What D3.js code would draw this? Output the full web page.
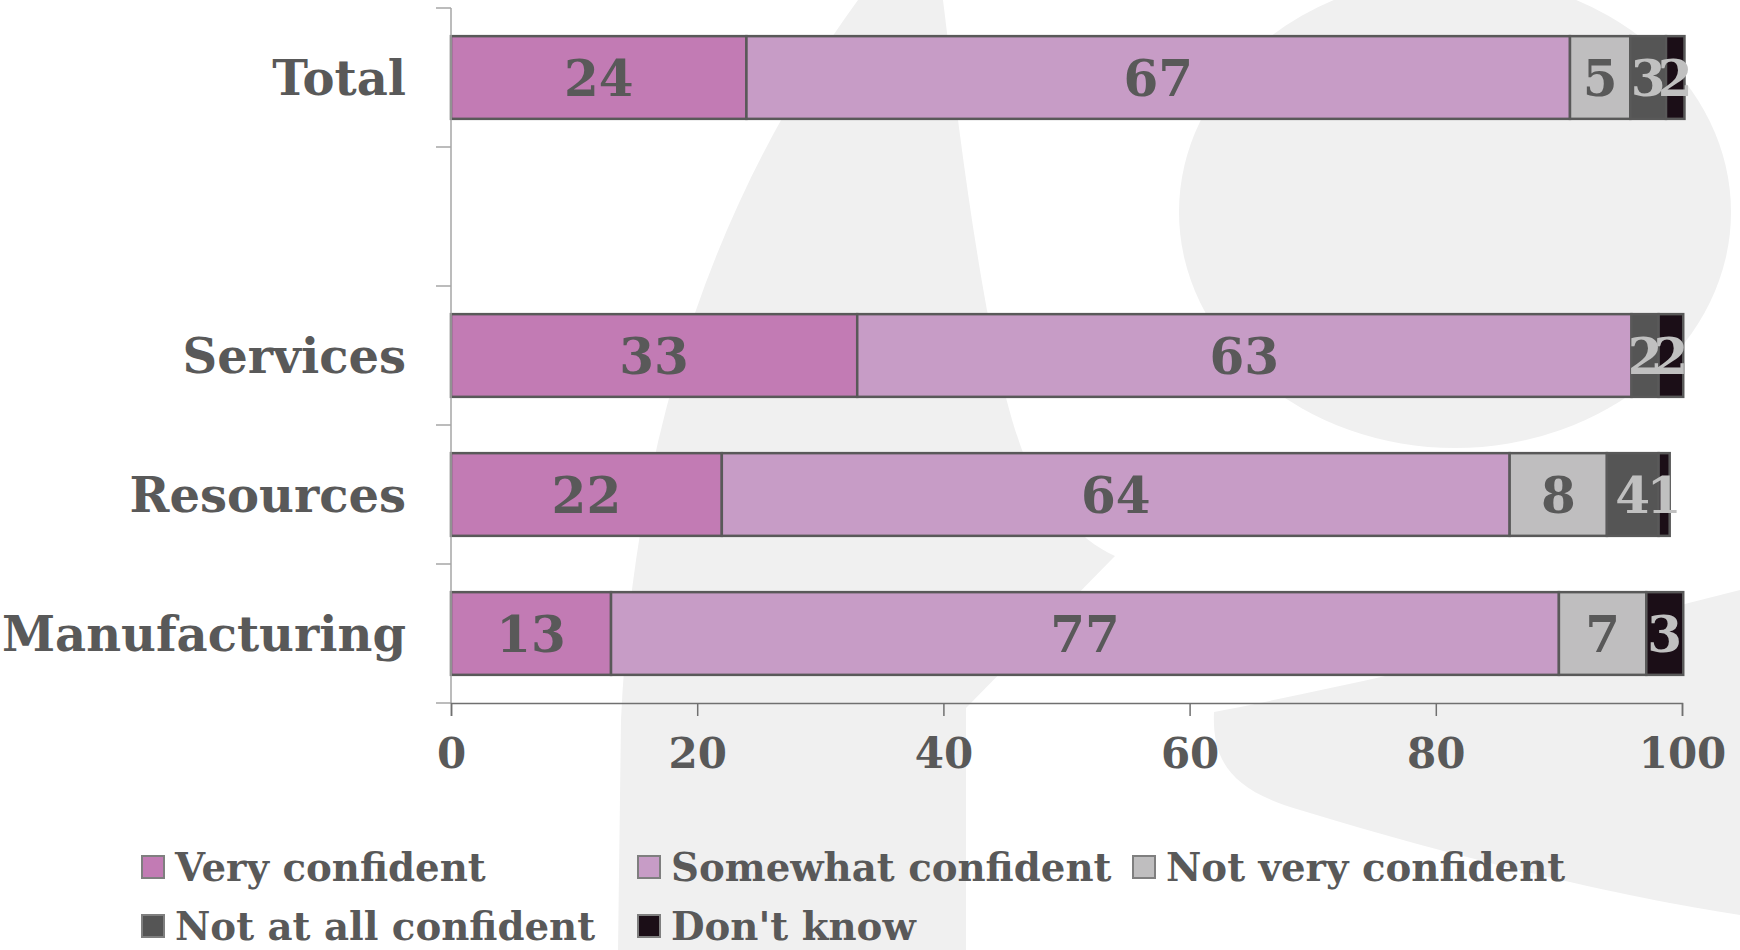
<!DOCTYPE html>
<html>
<head>
<meta charset="utf-8">
<script src="https://cdn.jsdelivr.net/npm/d3@7"></script>
<style>
  html, body { margin: 0; padding: 0; background: #ffffff; }
  svg { display: block; }
  text { font-family: "DejaVu Serif", serif; font-weight: bold; }
</style>
</head>
<body>
<svg id="chart" width="1740" height="950"></svg>
<script>
// ---- data ----
const categories = ["Total", " ", "Services", "Resources", "Manufacturing"];
const seriesNames = ["Very confident", "Somewhat confident", "Not very confident", "Not at all confident", "Don't know"];
const veryConfident     = [24.0, null, 33.0, 22.0, 13.0];
const somewhatConfident = [66.9, null, 62.9, 64.0, 77.0];
const notVeryConfident  = [4.9,  null, 0,    7.9,  7.1];
const notAtAllConfident = [2.9,  null, 2.2,  4.2,  0];
const dontKnow          = [1.5,  null, 2.0,  0.9,  3.0];
const xTicks = [0, 20, 40, 60, 80, 100];

const seriesValues = [veryConfident, somewhatConfident, notVeryConfident, notAtAllConfident, dontKnow];
const colors = ["#c27bb4", "#c79cc6", "#bfbebf", "#555555", "#1b0e17"];
const labelColors = ["#595959", "#595959", "#595959", "#c0c0c0", "#c0c0c0"];

const svg = d3.select("#chart");

// ---- faint watermark background ----
const bg = svg.append("g").attr("fill", "#f0f0f0");
bg.append("path").attr("d",
  "M 858,0 L 943,0 C 965,180 990,380 1030,470 C 1060,520 1090,545 1115,556 L 966,708 L 966,950 L 618,950 L 621,720 C 635,420 720,190 858,0 Z");
bg.append("ellipse").attr("cx", 1455).attr("cy", 212).attr("rx", 276).attr("ry", 236);
bg.append("path").attr("d",
  "M 1214,712 C 1380,680 1560,636 1740,590 L 1740,915 C 1640,900 1480,865 1300,810 C 1230,790 1212,760 1214,712 Z");

// ---- scales ----
const x = d3.scaleLinear().domain([0, 100]).range([451, 1682]);
const y = d3.scaleBand().domain(categories).range([8, 703]).paddingInner(0.405).paddingOuter(0.2025);

// ---- stacked data ----
const rows = categories.map((c, i) => {
  let acc = 0;
  const segs = [];
  seriesValues.forEach((arr, s) => {
    const v = arr[i];
    if (v === null) return;
    segs.push({ cat: c, s, v, x0: acc, x1: acc + v });
    acc += v;
  });
  return segs;
}).flat();

// ---- bars ----
svg.append("g").selectAll("rect").data(rows).join("rect")
  .attr("x", d => x(d.x0))
  .attr("y", d => y(d.cat))
  .attr("width", d => x(d.x1) - x(d.x0))
  .attr("height", y.bandwidth())
  .attr("fill", d => colors[d.s])
  .attr("stroke", "#595959")
  .attr("stroke-width", 2.5);

// ---- y axis (category) ----
const yAxisX = 451;
const yg = svg.append("g");
yg.append("line").attr("x1", yAxisX).attr("x2", yAxisX).attr("y1", 8).attr("y2", 703)
  .attr("stroke", "#a6a6a6").attr("stroke-width", 1.5);
const bandEdges = d3.range(categories.length + 1).map(i => y.range()[0] + i * y.step());
yg.selectAll("line.tick").data(bandEdges).join("line").attr("class", "tick")
  .attr("x1", yAxisX - 15).attr("x2", yAxisX).attr("y1", d => d).attr("y2", d => d)
  .attr("stroke", "#a6a6a6").attr("stroke-width", 1.5);
yg.selectAll("text").data(categories).join("text")
  .attr("x", 406)
  .attr("y", d => y(d) + y.bandwidth() / 2)
  .attr("dy", "0.36em")
  .attr("text-anchor", "end")
  .attr("fill", "#595959")
  .attr("font-size", 48)
  .text(d => d);

// ---- x axis ----
const xAxis = d3.axisBottom(x).tickValues(xTicks).tickSize(13).tickPadding(22).tickFormat(d3.format("d"));
const xg = svg.append("g").attr("transform", "translate(0,703)").call(xAxis);
xg.select(".domain").attr("stroke", "#707070").attr("stroke-width", 1.5);
xg.selectAll(".tick line").attr("stroke", "#707070").attr("stroke-width", 1.5);
xg.selectAll(".tick text")
  .attr("fill", "#595959")
  .attr("font-size", 42)
  .attr("font-family", "DejaVu Serif, serif")
  .attr("font-weight", "bold");

// ---- value labels ----
svg.append("g").selectAll("text").data(rows.filter(d => d.v > 0)).join("text")
  .attr("x", d => (x(d.x0) + x(d.x1)) / 2)
  .attr("y", d => y(d.cat) + y.bandwidth() / 2)
  .attr("dy", "0.36em")
  .attr("text-anchor", "middle")
  .attr("fill", d => labelColors[d.s])
  .attr("font-size", 50)
  .text(d => d3.format(".0f")(d.v));

// ---- legend ----
const legendPos = [[142, 867], [638, 867], [1133, 867], [142, 926], [638, 926]];
const lg = svg.append("g").selectAll("g").data(seriesNames).join("g")
  .attr("transform", (d, i) => `translate(${legendPos[i][0]},${legendPos[i][1]})`);
lg.append("rect").attr("x", 0).attr("y", -11).attr("width", 22).attr("height", 22)
  .attr("fill", (d, i) => colors[i]).attr("stroke", "#7f7f7f").attr("stroke-width", 2);
lg.append("text").attr("x", 33).attr("y", 0).attr("dy", "0.36em")
  .attr("fill", "#595959").attr("font-size", 38.7).text(d => d);
</script>
</body>
</html>
